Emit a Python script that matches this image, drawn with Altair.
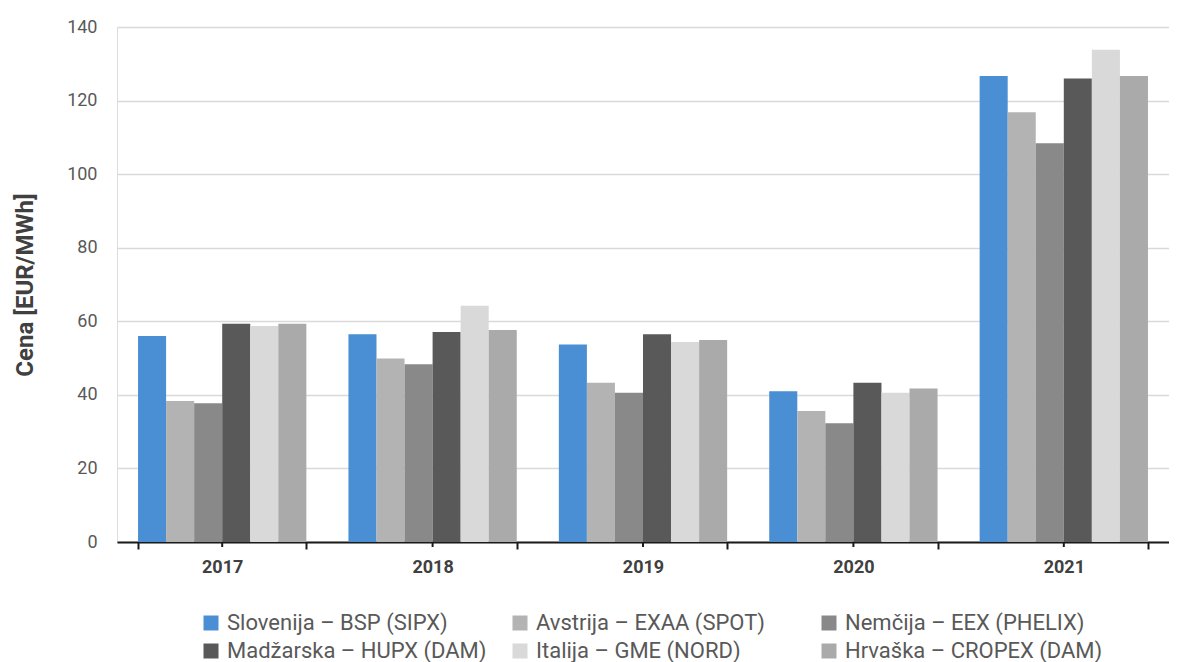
import altair as alt
import pandas as pd

years = ["2017", "2018", "2019", "2020", "2021"]
series = [
    "Slovenija – BSP (SIPX)",
    "Avstrija – EXAA (SPOT)",
    "Nemčija – EEX (PHELIX)",
    "Madžarska – HUPX (DAM)",
    "Italija – GME (NORD)",
    "Hrvaška – CROPEX (DAM)",
]
slovenija = [56.0, 56.5, 53.7, 41.0, 126.7]
avstrija = [38.3, 49.9, 43.3, 35.6, 116.8]
nemcija = [37.7, 48.3, 40.6, 32.3, 108.4]
madzarska = [59.3, 57.1, 56.5, 43.3, 126.0]
italija = [58.7, 64.2, 54.4, 40.6, 133.8]
hrvaska = [59.3, 57.6, 54.9, 41.7, 126.7]
colors = ["#4a8fd3", "#b3b3b3", "#898989", "#595959", "#d9d9d9", "#aaaaaa"]

values = [slovenija, avstrija, nemcija, madzarska, italija, hrvaska]
rows = []
for s, vals in zip(series, values):
    for y, v in zip(years, vals):
        rows.append({"Leto": y, "Serija": s, "Cena": v})
df = pd.DataFrame(rows)
df_years = pd.DataFrame({"Leto": years})

FONT = "Roboto"
W, H = 1052, 515

xscale = alt.Scale(domain=years, paddingInner=0.2, paddingOuter=0.1)

bars = alt.Chart(df).mark_bar(strokeWidth=0).encode(
    x=alt.X("Leto:N", scale=xscale, sort=years,
            axis=alt.Axis(title=None, labelAngle=0, tickBand="extent",
                          domainColor="#1a1a1a", domainWidth=2,
                          tickColor="#1a1a1a", tickWidth=2, tickSize=7,
                          labelFont=FONT, labelFontSize=18, labelFontWeight="bold",
                          labelColor="#404040", labelPadding=9, grid=False)),
    xOffset=alt.XOffset("Serija:N", sort=series, scale=alt.Scale(domain=series, paddingInner=0, paddingOuter=0)),
    y=alt.Y("Cena:Q", scale=alt.Scale(domain=[0, 140], nice=False),
            axis=alt.Axis(title="Cena [EUR/MWh]", values=[0, 20, 40, 60, 80, 100, 120, 140],
                          domain=False, ticks=False, labelPadding=20,
                          labelFont=FONT, labelFontSize=18, labelColor="#595959",
                          gridColor="#d9d9d9", gridWidth=1.5,
                          titleFont=FONT, titleFontSize=24, titleFontWeight="bold",
                          titleColor="#404040", titlePadding=29)),
    color=alt.Color("Serija:N", sort=series,
                    scale=alt.Scale(domain=series, range=colors),
                    legend=alt.Legend(title=None, orient="none", direction="horizontal",
                                      legendX=83, legendY=H + 70,
                                      columns=3, gridAlign="all",
                                      symbolType="square", symbolSize=225,
                                      symbolStrokeWidth=0, symbolOffset=0, labelLimit=0,
                                      labelFont=FONT, labelFontSize=22, labelColor="#595959",
                                      labelOffset=5, columnPadding=22, rowPadding=6)),
)

center_ticks = alt.Chart(df_years).mark_rule(color="#1a1a1a", strokeWidth=2).encode(
    x=alt.X("Leto:N", scale=xscale, sort=years),
    y=alt.value(H),
    y2=alt.value(H + 5),
)

chart = alt.layer(bars, center_ticks).properties(
    width=W, height=H,
    padding={"left": 5, "top": 10, "right": 0, "bottom": 0},
).configure_view(stroke=None).configure(background="white")

chart.save("out.html", embed_options={"renderer": "svg", "actions": False})
